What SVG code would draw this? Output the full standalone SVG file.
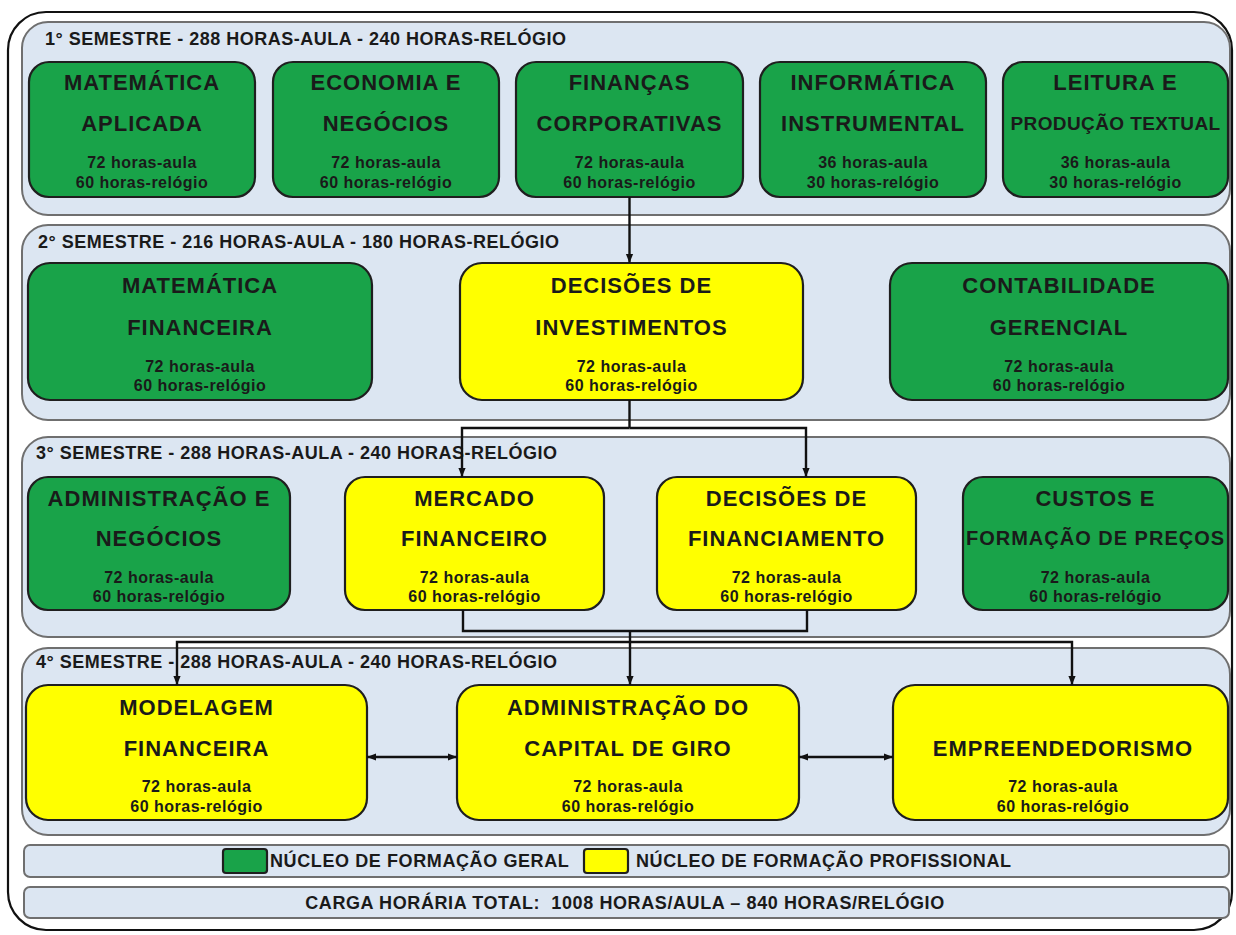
<svg xmlns="http://www.w3.org/2000/svg" width="1236" height="935" viewBox="0 0 1236 935">
<style>
text{font-family:"Liberation Sans",Arial,sans-serif;font-weight:bold;fill:#1a1a1a}
.panel{fill:#dce6f2;stroke:#6f6f6f;stroke-width:2}
.bar{fill:#dce6f2;stroke:#6f6f6f;stroke-width:2}
.g{fill:#19a349;stroke:#1f1f1f;stroke-width:2.2}
.y{fill:#ffff00;stroke:#1f1f1f;stroke-width:2.2}
.ptitle{font-size:18px;letter-spacing:0.5px}
.t{font-size:22px;letter-spacing:1px;text-anchor:middle}
.ts{font-size:19px;letter-spacing:0.4px;text-anchor:middle}
.h{font-size:16px;letter-spacing:0.5px;text-anchor:middle}
.leg{font-size:18px;letter-spacing:0.6px}
.c{fill:none;stroke:#111;stroke-width:2.4}
</style>
<defs>
<marker id="ah" viewBox="0 0 10 10" refX="10" refY="5" markerWidth="9" markerHeight="9" markerUnits="userSpaceOnUse" orient="auto-start-reverse">
<path d="M0,1 L10,5 L0,9 z" fill="#111"/>
</marker>
</defs>
<rect x="0" y="0" width="1236" height="935" fill="#ffffff"/>
<rect id="frame" x="8" y="12" width="1224" height="918" rx="38" fill="#ffffff" stroke="#111" stroke-width="2.2"/>

<g id="sem1">
<rect class="panel" x="22" y="22" width="1208" height="193" rx="26"/>
<text class="ptitle" x="45" y="45">1° SEMESTRE - 288 HORAS-AULA - 240 HORAS-RELÓGIO</text>
</g>
<g id="sem2">
<rect class="panel" x="22" y="225" width="1208" height="195" rx="26"/>
<text class="ptitle" x="38" y="248">2° SEMESTRE - 216 HORAS-AULA - 180 HORAS-RELÓGIO</text>
</g>
<g id="sem3">
<rect class="panel" x="22" y="437" width="1208" height="200" rx="26"/>
<text class="ptitle" x="36" y="459">3° SEMESTRE - 288 HORAS-AULA - 240 HORAS-RELÓGIO</text>
</g>
<g id="sem4">
<rect class="panel" x="22" y="648" width="1208" height="187" rx="26"/>
<text class="ptitle" x="36" y="668">4° SEMESTRE - 288 HORAS-AULA - 240 HORAS-RELÓGIO</text>
</g>

<g id="n-mat-aplicada">
<rect class="g" x="29" y="62" width="226" height="135" rx="20"/>
<text class="t" x="142" y="90">MATEMÁTICA</text>
<text class="t" x="142" y="131">APLICADA</text>
<text class="h" x="142" y="168">72 horas-aula</text>
<text class="h" x="142" y="188">60 horas-relógio</text>
</g>
<g id="n-economia">
<rect class="g" x="273" y="62" width="226" height="135" rx="20"/>
<text class="t" x="386" y="90">ECONOMIA E</text>
<text class="t" x="386" y="131">NEGÓCIOS</text>
<text class="h" x="386" y="168">72 horas-aula</text>
<text class="h" x="386" y="188">60 horas-relógio</text>
</g>
<g id="n-financas">
<rect class="g" x="516" y="62" width="227" height="135" rx="20"/>
<text class="t" x="629.5" y="90">FINANÇAS</text>
<text class="t" x="629.5" y="131">CORPORATIVAS</text>
<text class="h" x="629.5" y="168">72 horas-aula</text>
<text class="h" x="629.5" y="188">60 horas-relógio</text>
</g>
<g id="n-informatica">
<rect class="g" x="760" y="62" width="226" height="135" rx="20"/>
<text class="t" x="873" y="90">INFORMÁTICA</text>
<text class="t" x="873" y="131">INSTRUMENTAL</text>
<text class="h" x="873" y="168">36 horas-aula</text>
<text class="h" x="873" y="188">30 horas-relógio</text>
</g>
<g id="n-leitura">
<rect class="g" x="1003" y="62" width="225" height="135" rx="20"/>
<text class="t" x="1115.5" y="90">LEITURA E</text>
<text class="ts" x="1115.5" y="130">PRODUÇÃO TEXTUAL</text>
<text class="h" x="1115.5" y="168">36 horas-aula</text>
<text class="h" x="1115.5" y="188">30 horas-relógio</text>
</g>

<g id="n-mat-financeira">
<rect class="g" x="28" y="263" width="344" height="137" rx="22"/>
<text class="t" x="200" y="293">MATEMÁTICA</text>
<text class="t" x="200" y="335">FINANCEIRA</text>
<text class="h" x="200" y="372">72 horas-aula</text>
<text class="h" x="200" y="391">60 horas-relógio</text>
</g>
<g id="n-dec-invest">
<rect class="y" x="460" y="263" width="343" height="137" rx="22"/>
<text class="t" x="631.5" y="293">DECISÕES DE</text>
<text class="t" x="631.5" y="335">INVESTIMENTOS</text>
<text class="h" x="631.5" y="372">72 horas-aula</text>
<text class="h" x="631.5" y="391">60 horas-relógio</text>
</g>
<g id="n-contabilidade">
<rect class="g" x="890" y="263" width="338" height="137" rx="22"/>
<text class="t" x="1059" y="293">CONTABILIDADE</text>
<text class="t" x="1059" y="335">GERENCIAL</text>
<text class="h" x="1059" y="372">72 horas-aula</text>
<text class="h" x="1059" y="391">60 horas-relógio</text>
</g>

<g id="n-adm-negocios">
<rect class="g" x="28" y="477" width="262" height="133" rx="20"/>
<text class="t" x="159" y="506">ADMINISTRAÇÃO E</text>
<text class="t" x="159" y="546">NEGÓCIOS</text>
<text class="h" x="159" y="583">72 horas-aula</text>
<text class="h" x="159" y="602">60 horas-relógio</text>
</g>
<g id="n-mercado">
<rect class="y" x="345" y="477" width="259" height="133" rx="20"/>
<text class="t" x="474.5" y="506">MERCADO</text>
<text class="t" x="474.5" y="546">FINANCEIRO</text>
<text class="h" x="474.5" y="583">72 horas-aula</text>
<text class="h" x="474.5" y="602">60 horas-relógio</text>
</g>
<g id="n-dec-financ">
<rect class="y" x="657" y="477" width="259" height="133" rx="20"/>
<text class="t" x="786.5" y="506">DECISÕES DE</text>
<text class="t" x="786.5" y="546">FINANCIAMENTO</text>
<text class="h" x="786.5" y="583">72 horas-aula</text>
<text class="h" x="786.5" y="602">60 horas-relógio</text>
</g>
<g id="n-custos">
<rect class="g" x="963" y="477" width="265" height="133" rx="20"/>
<text class="t" x="1095.5" y="506">CUSTOS E</text>
<text class="t" x="1095.5" y="545" style="font-size:20px">FORMAÇÃO DE PREÇOS</text>
<text class="h" x="1095.5" y="583">72 horas-aula</text>
<text class="h" x="1095.5" y="602">60 horas-relógio</text>
</g>

<g id="n-modelagem">
<rect class="y" x="26" y="685" width="341" height="135" rx="22"/>
<text class="t" x="196.5" y="715">MODELAGEM</text>
<text class="t" x="196.5" y="756">FINANCEIRA</text>
<text class="h" x="196.5" y="792">72 horas-aula</text>
<text class="h" x="196.5" y="812">60 horas-relógio</text>
</g>
<g id="n-capital-giro">
<rect class="y" x="457" y="685" width="342" height="135" rx="22"/>
<text class="t" x="628" y="715">ADMINISTRAÇÃO DO</text>
<text class="t" x="628" y="756">CAPITAL DE GIRO</text>
<text class="h" x="628" y="792">72 horas-aula</text>
<text class="h" x="628" y="812">60 horas-relógio</text>
</g>
<g id="n-empreend">
<rect class="y" x="893" y="685" width="335" height="135" rx="22"/>
<text class="t" x="1063" y="756">EMPREENDEDORISMO</text>
<text class="h" x="1063" y="792">72 horas-aula</text>
<text class="h" x="1063" y="812">60 horas-relógio</text>
</g>

<g id="connectors">
<path class="c" d="M629.5,197 V263" marker-end="url(#ah)"/>
<path class="c" d="M629.5,400 V428"/>
<path class="c" d="M629.5,428 H462 V477" marker-end="url(#ah)"/>
<path class="c" d="M629.5,428 H806 V477" marker-end="url(#ah)"/>
<path class="c" d="M463,610 V631 H807 V610"/>
<path class="c" d="M630,631 V642"/>
<path class="c" d="M630,642 H177 V685" marker-end="url(#ah)"/>
<path class="c" d="M630,642 V685" marker-end="url(#ah)"/>
<path class="c" d="M630,642 H1072 V685" marker-end="url(#ah)"/>
<path class="c" d="M367,757 H457" marker-start="url(#ah)" marker-end="url(#ah)"/>
<path class="c" d="M799,757 H893" marker-start="url(#ah)" marker-end="url(#ah)"/>
</g>

<g id="legend">
<rect class="bar" x="24" y="845" width="1205" height="32" rx="6"/>
<rect class="g" x="223" y="849" width="44" height="24" rx="3"/>
<text class="leg" x="270" y="867">NÚCLEO DE FORMAÇÃO GERAL</text>
<rect class="y" x="584" y="849" width="44" height="24" rx="3"/>
<text class="leg" x="636" y="867">NÚCLEO DE FORMAÇÃO PROFISSIONAL</text>
</g>
<g id="total">
<rect class="bar" x="24" y="887" width="1205" height="31" rx="6"/>
<text class="leg" x="625" y="909" text-anchor="middle">CARGA HORÁRIA TOTAL:&#160; 1008 HORAS/AULA – 840 HORAS/RELÓGIO</text>
</g>
</svg>
